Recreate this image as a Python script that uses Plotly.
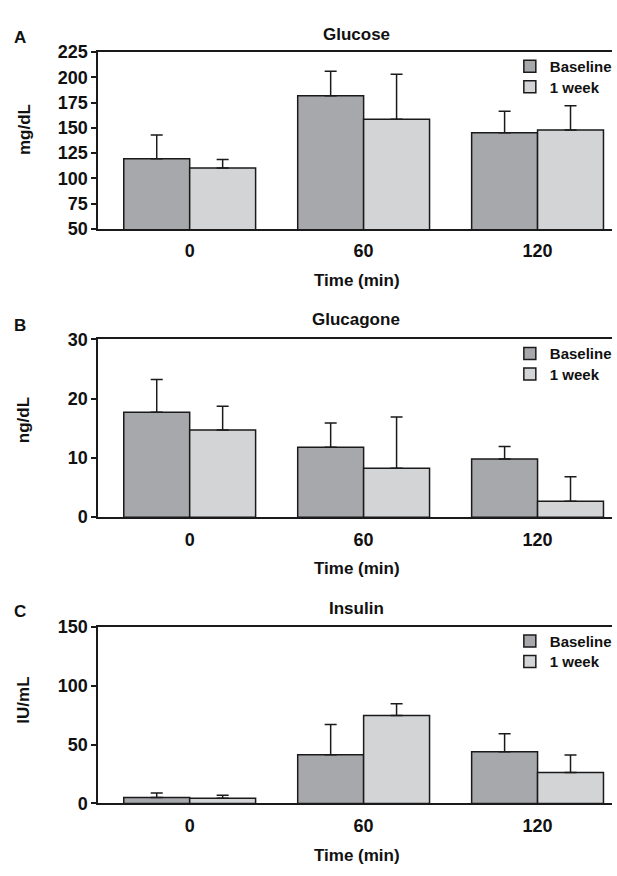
import plotly.graph_objects as go

# ---------------- data ----------------
times = ["0", "60", "120"]
series_names = ["Baseline", "1 week"]

glucose_baseline = [119.3, 181.8, 145.0]
glucose_baseline_sd = [23.5, 24.2, 21.3]
glucose_week = [110.2, 158.6, 147.9]
glucose_week_sd = [8.4, 44.4, 23.9]

glucagon_baseline = [17.7, 11.8, 9.8]
glucagon_baseline_sd = [5.5, 4.1, 2.1]
glucagon_week = [14.7, 8.25, 2.7]
glucagon_week_sd = [4.0, 8.65, 4.1]

insulin_baseline = [5.0, 41.4, 43.9]
insulin_baseline_sd = [3.8, 25.5, 15.2]
insulin_week = [4.4, 74.6, 26.2]
insulin_week_sd = [2.5, 9.9, 15.0]

panel_titles = ["Glucose", "Glucagone", "Insulin"]
panel_letters = ["A", "B", "C"]
y_titles = ["mg/dL", "ng/dL", "IU/mL"]
x_title = "Time (min)"
y_ranges = [[50, 225], [0, 30], [0, 150]]
y_dticks = [25, 10, 50]

# ---------------- style / layout ----------------
W, H = 617, 876
FONT = "Liberation Sans, Arial, sans-serif"
C_BASE = "#a7a8ab"
C_WEEK = "#d3d4d6"
EDGE = "#1a1a1a"

def px_x(p):
    return p / W

def px_y(p):
    return 1 - p / H

plot_left = 99
panel_tops = [43, 337, 631]
panel_bottoms = [224, 519, 812]
title_y = [25, 317, 612]
letter_y = [28, 323, 616]
ylab_y = [122, 420, 706]
xlab_y = [277, 572, 865]
legend_item_offsets = [15, 36]   # item centre below panel top
LEGEND_CENTER_SHIFT = 17         # legend top -> item centre

panels = [
    (glucose_baseline, glucose_baseline_sd, glucose_week, glucose_week_sd),
    (glucagon_baseline, glucagon_baseline_sd, glucagon_week, glucagon_week_sd),
    (insulin_baseline, insulin_baseline_sd, insulin_week, insulin_week_sd),
]

fig = go.Figure()
annotations = []
layout_updates = {}
legend_idx = 0

for i, (bv, bsd, wv, wsd) in enumerate(panels):
    xa = "x" if i == 0 else f"x{i+1}"
    ya = "y" if i == 0 else f"y{i+1}"
    for j, (name, vals, sd, col) in enumerate([
        (series_names[0], bv, bsd, C_BASE),
        (series_names[1], wv, wsd, C_WEEK),
    ]):
        legend_idx += 1
        lkey = "legend" if legend_idx == 1 else f"legend{legend_idx}"
        fig.add_trace(go.Bar(
            x=times, y=vals, name=name,
            xaxis=xa, yaxis=ya,
            legend=lkey,
            marker=dict(color=col, line=dict(color=EDGE, width=1.5)),
            error_y=dict(type="data", array=sd, arrayminus=[0] * len(sd),
                         symmetric=False, color=EDGE, thickness=1.5, width=6),
        ))
        top = panel_tops[i] + legend_item_offsets[j] - LEGEND_CENTER_SHIFT
        layout_updates[lkey] = dict(
            x=px_x(514), y=px_y(top), xanchor="left", yanchor="top",
            bgcolor="rgba(0,0,0,0)", borderwidth=0,
            font=dict(family=FONT, size=15, color="#111", weight="bold"),
            itemwidth=30,
        )

    dom_y = [px_y(panel_bottoms[i]), px_y(panel_tops[i])]
    xkey = "xaxis" if i == 0 else f"xaxis{i+1}"
    ykey = "yaxis" if i == 0 else f"yaxis{i+1}"
    layout_updates[xkey] = dict(
        domain=[px_x(plot_left), 1], anchor=ya, type="category",
        range=[-0.526, 2.428], showline=True, linecolor=EDGE, linewidth=1.5,
        mirror=True, ticks="", showgrid=False, zeroline=False,
        ticklabelstandoff=5,
        tickfont=dict(family=FONT, size=18, color="#111", weight="bold"),
    )
    layout_updates[ykey] = dict(
        domain=dom_y, anchor=xa, range=y_ranges[i], dtick=y_dticks[i],
        showline=True, linecolor=EDGE, linewidth=1.5, ticks="outside",
        ticklen=5, tickwidth=1.5, tickcolor=EDGE, showgrid=False,
        zeroline=False,
        tickfont=dict(family=FONT, size=18, color="#111", weight="bold"),
    )

    annotations += [
        dict(text=panel_titles[i], x=px_x(359), y=px_y(title_y[i]),
             font=dict(size=17)),
        dict(text=panel_letters[i], x=px_x(20), y=px_y(letter_y[i]),
             font=dict(size=17)),
        dict(text=y_titles[i], x=px_x(24), y=px_y(ylab_y[i]), textangle=-90,
             font=dict(size=17)),
        dict(text=x_title, x=px_x(360), y=px_y(xlab_y[i]),
             font=dict(size=17)),
    ]

for a in annotations:
    a.update(xref="paper", yref="paper", showarrow=False,
             xanchor="center", yanchor="middle")
    a["font"].update(family=FONT, color="#111", weight="bold")

fig.update_layout(**layout_updates)
fig.update_layout(
    width=W, height=H, margin=dict(l=0, r=0, t=0, b=0),
    paper_bgcolor="white", plot_bgcolor="white",
    barmode="group", bargap=0.242, bargroupgap=0,
    annotations=annotations, showlegend=True,
    font=dict(family=FONT, color="#111"),
)

fig.write_html(
    "out.html",
    config={"displayModeBar": False},
    post_script="document.body.style.margin='0';document.body.style.overflow='hidden';",
)
